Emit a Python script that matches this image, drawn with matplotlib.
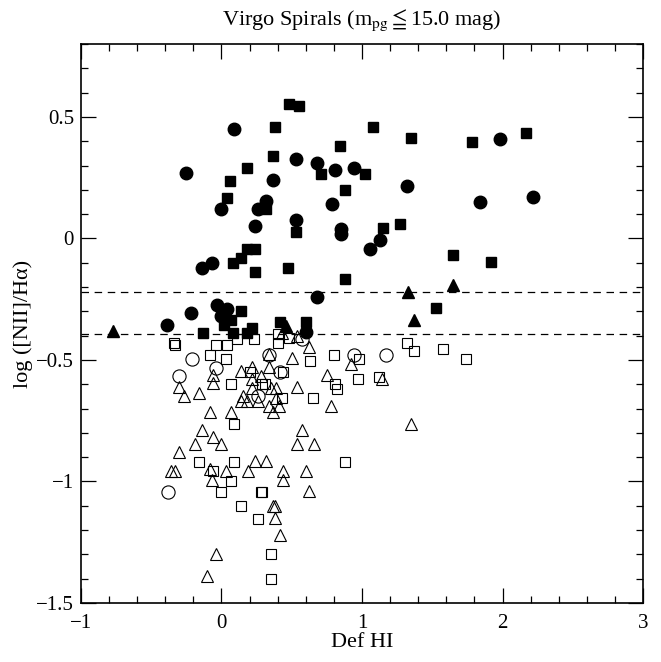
import matplotlib
matplotlib.use('Agg')
import matplotlib.pyplot as plt
from matplotlib.ticker import MultipleLocator

plt.rcParams['font.family'] = ['Liberation Serif', 'DejaVu Serif', 'DejaVu Sans']
plt.rcParams['mathtext.fontset'] = 'stix'

# Virgo spirals: HI deficiency vs log([NII]/Halpha), one list per symbol type
filled_circle_x = [0.09, -0.25, 0.37, 0.32, 0.00, 0.26, 0.24, -0.14, -0.07, 0.53, 0.68, 0.81,
                   0.94, 1.32, 0.79, 0.53, 0.85, 0.85, 1.13, 1.06, 1.98, 1.84, 2.22, -0.03,
                   0.04, -0.22, 0.00, -0.39, 0.68, 0.60]
filled_circle_y = [0.45, 0.27, 0.24, 0.155, 0.12, 0.12, 0.05, -0.12, -0.10, 0.325, 0.31, 0.28,
                   0.29, 0.215, 0.14, 0.075, 0.04, 0.02, -0.005, -0.045, 0.41, 0.15, 0.17, -0.275,
                   -0.29, -0.305, -0.32, -0.355, -0.24, -0.385]

filled_square_x = [0.38, 0.37, 0.18, 0.06, 0.04, 0.32, 0.18, 0.24, 0.14, 0.08, 0.24, 0.48,
                   0.55, 1.08, 1.35, 1.78, 0.84, 0.71, 1.02, 0.88, 0.53, 1.15, 1.27, 1.65,
                   0.47, 2.17, 1.92, 0.88, 1.53, 0.42, 0.60, 0.14, 0.07, 0.02, -0.13, 0.08,
                   0.18, 0.22]
filled_square_y = [0.46, 0.34, 0.29, 0.235, 0.165, 0.12, -0.045, -0.045, -0.08, -0.10, -0.14, 0.555,
                   0.545, 0.46, 0.415, 0.395, 0.38, 0.265, 0.265, 0.20, 0.025, 0.045, 0.06, -0.07,
                   -0.12, 0.435, -0.095, -0.165, -0.285, -0.345, -0.345, -0.30, -0.335, -0.355, -0.39, -0.39,
                   -0.39, -0.37]

filled_tri_x = [-0.77, 1.33, 1.65, 1.37, 0.46]
filled_tri_y = [-0.38, -0.22, -0.19, -0.335, -0.36]

open_circle_x = [-0.21, 0.34, -0.04, -0.30, 0.42, 0.26, 0.57, 0.94, 1.17, -0.38]
open_circle_y = [-0.495, -0.48, -0.535, -0.565, -0.55, -0.65, -0.415, -0.48, -0.48, -1.045]

open_square_x = [-0.34, -0.33, -0.04, 0.04, 0.11, 0.23, -0.08, 0.03, 0.20, 0.07, 0.29, 0.31,
                 0.09, 0.40, 0.40, 0.48, 1.32, 1.37, 1.58, 1.74, 0.80, 0.98, 0.63, 0.44,
                 1.12, 0.97, 0.81, 0.82, 0.43, 0.65, -0.16, 0.09, -0.06, 0.07, 0.00, 0.28,
                 0.29, 0.14, 0.26, 0.35, 0.35, 0.88]
open_square_y = [-0.43, -0.44, -0.44, -0.44, -0.415, -0.415, -0.48, -0.495, -0.55, -0.60, -0.60, -0.60,
                 -0.765, -0.395, -0.43, -0.41, -0.43, -0.465, -0.455, -0.495, -0.48, -0.495, -0.505, -0.55,
                 -0.57, -0.58, -0.60, -0.62, -0.655, -0.655, -0.92, -0.92, -0.955, -1.00, -1.045, -1.045,
                 -1.045, -1.10, -1.155, -1.30, -1.40, -0.92]

open_tri_x = [0.43, 0.54, 0.62, 0.34, 0.50, 0.92, -0.06, 0.14, 0.22, 0.34, 0.22, 0.28,
              -0.30, -0.27, -0.06, 0.22, 0.35, 0.39, 0.54, -0.16, 0.15, 0.14, 0.18, 0.26,
              0.39, 0.34, 0.41, 0.37, -0.08, 0.07, 0.75, 1.14, 0.78, 1.35, 0.57, -0.14,
              -0.06, 0.00, -0.19, -0.30, 0.24, 0.32, -0.36, -0.33, -0.08, 0.03, 0.19, -0.07,
              0.54, 0.66, 0.44, 0.60, 0.44, 0.62, 0.37, 0.38, 0.38, 0.42, -0.04, -0.10]
open_tri_y = [-0.39, -0.40, -0.445, -0.475, -0.49, -0.515, -0.56, -0.545, -0.53, -0.53, -0.58, -0.565,
              -0.61, -0.65, -0.595, -0.615, -0.615, -0.615, -0.61, -0.635, -0.65, -0.67, -0.67, -0.67,
              -0.655, -0.69, -0.69, -0.715, -0.715, -0.715, -0.56, -0.58, -0.69, -0.765, -0.79, -0.79,
              -0.815, -0.845, -0.845, -0.88, -0.915, -0.915, -0.955, -0.955, -0.95, -0.955, -0.955, -0.995,
              -0.845, -0.845, -0.955, -0.955, -0.995, -1.04, -1.10, -1.10, -1.15, -1.22, -1.30, -1.39]

dashed_levels = [-0.22, -0.395]

fig = plt.figure(figsize=(6.61, 6.62), dpi=100)
ax = fig.add_axes([0.1225, 0.0891, 0.8503, 0.8444])

ax.plot(filled_circle_x, filled_circle_y, 'o', ms=9.0, color='black', mec='black', ls='none')
ax.plot(filled_square_x, filled_square_y, 's', ms=7.2, color='black', mec='black', ls='none')
ax.plot(filled_tri_x, filled_tri_y, '^', ms=8.5, color='black', mec='black', ls='none')
ax.plot(open_circle_x, open_circle_y, 'o', ms=9.5, mfc='none', mec='black', mew=0.8, ls='none')
ax.plot(open_square_x, open_square_y, 's', ms=6.6, mfc='none', mec='black', mew=0.8, ls='none')
ax.plot(open_tri_x, open_tri_y, '^', ms=8.0, mfc='none', mec='black', mew=0.8, ls='none')

for lev in dashed_levels:
    ax.axhline(lev, color='black', lw=0.9, ls=(0, (6, 4.5)))

ax.set_xlim(-1, 3)
ax.set_ylim(-1.5, 0.8)
ax.xaxis.set_minor_locator(MultipleLocator(0.2))
ax.yaxis.set_minor_locator(MultipleLocator(0.1))
ax.set_yticks([-1.5, -1, -0.5, 0, 0.5])
ax.set_yticklabels(['\u22121.5', '\u22121', '\u22120.5', '0', '0.5'])
ax.set_xticks([-1, 0, 1, 2, 3])
ax.set_xticklabels(['\u22121', '0', '1', '2', '3'])

ax.tick_params(which='both', direction='in', top=True, right=True, labelsize=15, width=0.9)
ax.tick_params(which='major', length=10.5)
ax.tick_params(which='minor', length=5)
ax.tick_params(axis='x', which='major', pad=8)
ax.tick_params(axis='y', which='major', pad=5)
for s in ax.spines.values():
    s.set_linewidth(1.2)

ax.set_xlabel('Def HI', fontsize=16, labelpad=0)
ax.set_ylabel('log ([NII]/H\u03b1)', fontsize=16, labelpad=2)
ax.set_title('Virgo Spirals (m$_{\\rm pg}\\leqq$15.0 mag)', fontsize=16, pad=14)

fig.savefig('out.png', dpi=100)
